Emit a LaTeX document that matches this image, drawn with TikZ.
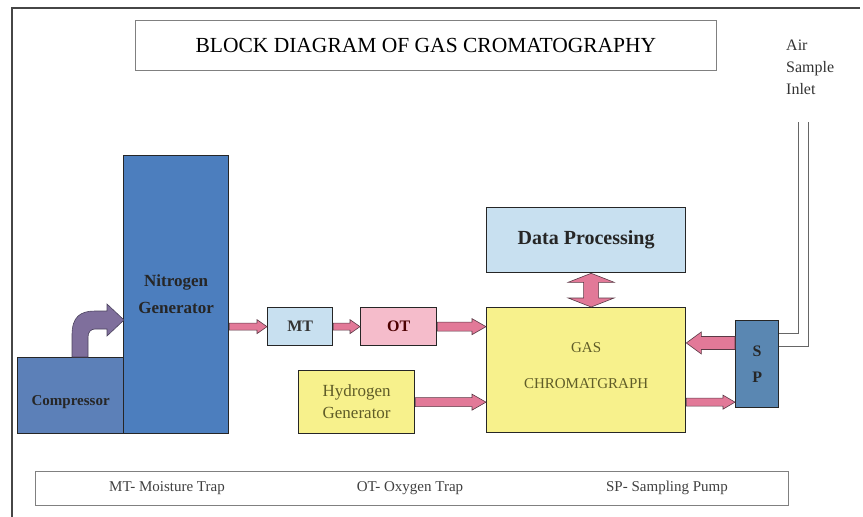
\documentclass[tikz,border=0pt]{standalone}
\usepackage{fontspec}
\setmainfont{Liberation Serif}
\usetikzlibrary{calc}
\definecolor{nitroblue}{RGB}{76,126,190}
\definecolor{compblue}{RGB}{92,128,184}
\definecolor{ltblue}{RGB}{200,224,240}
\definecolor{ltpink}{RGB}{245,188,203}
\definecolor{yel}{RGB}{247,241,140}
\definecolor{spblue}{RGB}{90,135,178}
\definecolor{arrpink}{RGB}{226,121,152}
\definecolor{arrline}{RGB}{90,58,70}
\definecolor{purp}{RGB}{127,111,156}
\definecolor{olive}{RGB}{95,92,40}
\definecolor{frame}{RGB}{70,70,70}
\tikzset{
  blk/.style={draw=black!85, line width=1.3pt, anchor=north west, inner sep=0pt, align=center},
  lbox/.style={draw=black!50, line width=0.8pt, anchor=north west, inner sep=0pt},
  pinkarr/.style={fill=arrpink, draw=arrline, line width=0.6pt},
  legtext/.style={font=\fontsize{15}{17}\selectfont, text=black!75},
}
\newcommand\fatarrow[5]{%
  \filldraw[pinkarr] let \p1=(#1), \p2=(#2), \n1={ifthenelse(\x2>\x1,1,-1)} in
   (\x1,{\y1+#3}) -- ({\x2-\n1*#5},{\y1+#3}) -- ({\x2-\n1*#5},{\y1+#4}) -- (\x2,\y1)
   -- ({\x2-\n1*#5},{\y1-#4}) -- ({\x2-\n1*#5},{\y1-#3}) -- (\x1,{\y1-#3}) -- cycle;}
\begin{document}
\begin{tikzpicture}[x=1pt,y=-1pt]
\useasboundingbox (0,0) rectangle (863,517);
% frame
\draw[frame, line width=2pt] (12,517) -- (12,8) -- (860,8);
% title
\node[lbox, minimum width=581pt, minimum height=50pt] (title) at (135,20)
  {\fontsize{21.5}{24}\selectfont BLOCK DIAGRAM OF GAS CROMATOGRAPHY};
% blocks
\node[blk, fill=compblue, minimum width=106pt, minimum height=76pt, font=\bfseries\fontsize{15}{17}\selectfont, text=black!85] (comp) at (17,357) {\raisebox{-22pt}{Compressor}};
\node[blk, fill=nitroblue, minimum width=105pt, minimum height=278pt, font=\bfseries\fontsize{17}{27}\selectfont, text=black!85] (nitro) at (123,155) {Nitrogen\\Generator};
\node[blk, fill=ltblue, minimum width=65pt, minimum height=38pt, font=\bfseries\fontsize{16}{18}\selectfont, text=black!80] (mt) at (267,307) {MT};
\node[blk, fill=ltpink, minimum width=76pt, minimum height=38pt, font=\bfseries\fontsize{16}{18}\selectfont, text=red!30!black] (ot) at (360,307) {OT};
\node[blk, fill=yel, minimum width=116pt, minimum height=63pt, font=\fontsize{17}{22}\selectfont, text=olive] (hyd) at (298,370) {Hydrogen\\Generator};
\node[blk, fill=ltblue, minimum width=199pt, minimum height=65pt, font=\bfseries\fontsize{20}{22}\selectfont, text=black!85] (dp) at (486,207) {Data Processing};
\node[blk, fill=yel, minimum width=199pt, minimum height=125pt, font=\fontsize{15}{36}\selectfont, text=olive] (gc) at (486,307) {GAS\\CHROMATGRAPH\\[-26pt]};
\node[blk, fill=spblue, minimum width=43pt, minimum height=87pt, font=\bfseries\fontsize{16}{26}\selectfont, text=black!85] (sp) at (735,320) {S\\P};
% air inlet
\node[anchor=north west, inner sep=0pt, align=left, font=\fontsize{16}{22}\selectfont, text=black!80] (air) at (786,40) {Air\\Sample\\Inlet};
\coordinate (in1) at (798,122);
\coordinate (in2) at (808,122);
\draw[black!60, line width=0.7pt] (in1) |- ($(sp.north east)!0.15!(sp.south east)$);
\draw[black!60, line width=0.7pt] (in2) |- ($(sp.north east)!0.30!(sp.south east)$);
% legend
\node[lbox, minimum width=753pt, minimum height=34pt] (legend) at (35,471) {};
\node[legtext] (l1) at ($(legend.west)+(132,0)$) {MT- Moisture Trap};
\node[legtext] (l2) at ($(legend.west)+(375,0)$) {OT- Oxygen Trap};
\node[legtext] (l3) at ($(legend.west)+(632,0)$) {SP- Sampling Pump};
% arrows
\fatarrow{nitro.east |- mt.west}{mt.west}{3.5pt}{7pt}{10pt}
\fatarrow{mt.east}{ot.west}{3.5pt}{7pt}{10pt}
\fatarrow{ot.east}{gc.west |- ot.east}{4.5pt}{8pt}{14pt}
\fatarrow{hyd.east}{gc.west |- hyd.east}{4.5pt}{8pt}{14pt}
\fatarrow{$(sp.north west)!0.26!(sp.south west)$}{gc.east |- {$(sp.north west)!0.26!(sp.south west)$}}{6.5pt}{11pt}{15pt}
\fatarrow{gc.east |- hyd.east}{sp.west |- hyd.east}{4pt}{7pt}{12pt}
% double arrow
\filldraw[pinkarr] let \p1=($(dp.south)+(5,0)$), \p2=($(gc.north)+(5,0)$) in
  (\x1,\y1) -- ({\x1+23pt},{\y1-9pt}) -- ({\x1+7.5pt},{\y1-9pt}) -- ({\x1+7.5pt},{\y2+9pt})
  -- ({\x1+23pt},{\y2+9pt}) -- (\x1,\y2) -- ({\x1-23pt},{\y2+9pt}) -- ({\x1-7.5pt},{\y2+9pt})
  -- ({\x1-7.5pt},{\y1-9pt}) -- ({\x1-23pt},{\y1-9pt}) -- cycle;
% curved purple arrow
\begin{scope}[shift={(comp.north west)}]
\filldraw[fill=purp, draw=purp!60!black, line width=0.6pt]
  (55,0) -- (55,-22) .. controls (55,-40) and (63,-46) .. (78,-46) -- (90,-46) -- (90,-53)
  -- (107,-37) -- (90,-21) -- (90,-28) -- (78,-28) .. controls (74,-28) and (71,-25) .. (71,-20)
  -- (71,0) -- cycle;
\end{scope}
\end{tikzpicture}
\end{document}
